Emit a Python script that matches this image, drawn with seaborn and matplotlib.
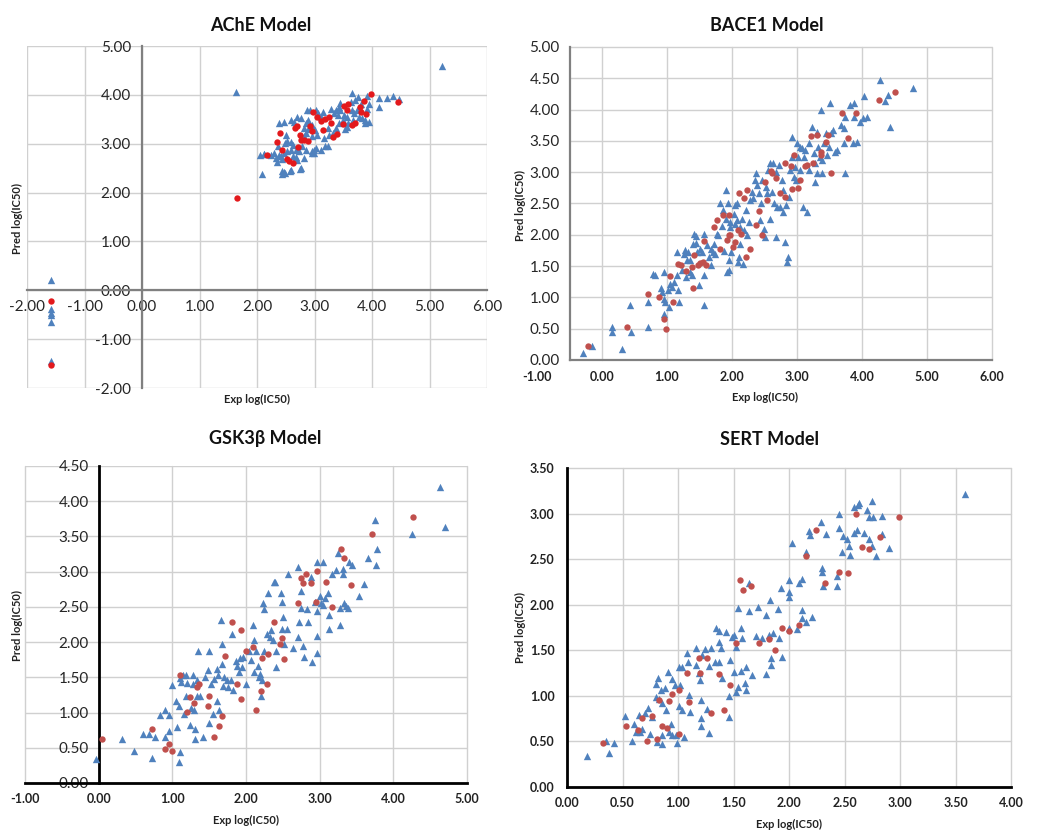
import matplotlib
matplotlib.use("Agg")
import matplotlib.pyplot as plt
import seaborn as sns
import pandas as pd

# ---------------- DATA ----------------
# AChE model
ache_train_x = [1.64, 5.22, 4.47, -1.58, -1.58, -1.58, -1.58, -1.58, -1.58,
    3.66, 3.91, 4.13, 4.26, 4.36, 4.12, 3.75, 3.71, 3.63, 3.45, 3.43, 3.80, 3.94, 3.91, 3.83,
    3.88, 3.94, 3.87, 3.77, 3.68, 3.67, 3.59, 3.53, 3.56, 3.49, 3.40, 3.34, 3.37, 3.43, 3.37,
    3.23, 3.26, 3.17, 3.23, 3.11, 3.02, 2.96, 3.02, 3.06, 3.14, 3.11, 2.89, 2.85, 2.82, 2.89,
    2.96, 3.00, 3.05, 2.85, 2.81, 2.79, 2.85, 2.96, 2.99, 2.73, 2.67, 2.59, 2.53, 2.47, 2.39,
    2.33, 2.30, 2.24, 2.13, 2.06, 2.08, 2.43, 2.47, 2.59, 2.76, 2.50, 2.48, 2.53, 2.59, 2.62,
    2.36, 2.41, 2.44, 2.62, 2.67, 2.70, 2.82, 2.59, 2.65, 2.47, 2.39, 2.87, 2.93, 2.70, 2.76,
    3.45, 3.28, 3.51, 3.74, 3.66, 3.57, 2.12, 2.35, 2.43, 2.49, 2.58, 2.75, 2.96, 2.99, 3.19, 3.33]
ache_train_y = [4.05, 4.60, 3.91, 0.21, -0.39, -0.46, -0.51, -0.64, -1.44,
    4.04, 3.97, 3.94, 3.94, 3.97, 3.75, 3.95, 3.89, 3.85, 3.83, 3.75, 3.82, 3.82, 3.72, 3.52,
    3.48, 3.45, 3.43, 3.55, 3.62, 3.48, 3.42, 3.30, 3.35, 3.48, 3.58, 3.62, 3.68, 3.42, 3.32,
    3.32, 3.18, 3.11, 2.95, 2.88, 2.91, 3.15, 3.68, 3.62, 3.65, 3.55, 3.48, 3.42, 3.32, 3.30,
    3.38, 3.28, 3.18, 3.21, 3.15, 2.95, 2.88, 2.85, 2.81, 2.85, 2.88, 2.88, 2.85, 2.81, 2.76,
    2.71, 2.81, 2.76, 2.78, 2.76, 2.38, 2.44, 2.42, 2.46, 2.50, 3.18, 3.01, 3.06, 3.03, 2.98,
    2.95, 2.74, 2.68, 2.74, 2.73, 2.66, 2.71, 3.48, 3.45, 3.45, 3.42, 3.68, 3.70, 3.55, 3.52,
    3.68, 3.72, 3.58, 3.68, 3.69, 3.55, 2.78, 2.63, 2.39, 2.40, 2.44, 2.48, 2.82, 2.88, 2.95, 3.22]
ache_test_x = [1.65, 4.45, -1.58, -1.58, 3.99, 3.86, 3.79, 3.58, 3.51, 3.56, 3.80, 3.90,
    3.71, 3.65, 3.49, 3.39, 3.32, 3.26, 3.19, 3.11, 3.05, 2.98, 2.93, 2.95, 3.14, 2.70,
    2.66, 2.40, 2.35, 2.74, 2.76, 2.82, 2.89, 2.72, 2.44, 2.18, 2.52, 2.56, 2.62, 3.28]
ache_test_y = [1.89, 3.85, -0.22, -1.52, 4.01, 3.87, 3.75, 3.82, 3.77, 3.68, 3.65, 3.60,
    3.43, 3.38, 3.40, 3.19, 3.13, 3.55, 3.50, 3.47, 3.55, 3.64, 3.37, 3.27, 3.28, 3.36,
    3.32, 3.21, 3.03, 3.17, 3.08, 3.07, 3.05, 2.93, 2.87, 2.77, 2.68, 2.64, 2.61, 3.43]

# BACE1 model
bace_train_x = [-0.29, -0.15, 0.15, 0.15, 0.31, 0.43, 0.45, 0.71, 0.71, 0.79, 0.81, 0.90, 0.92,
    0.96, 0.96, 0.97, 0.96, 1.03, 1.05, 1.02, 1.08, 1.10, 1.15, 1.15, 1.17, 1.18, 1.23, 1.26,
    1.28, 1.29, 1.31, 1.33, 1.36, 1.36, 1.38, 1.40, 1.41, 1.44, 1.45, 1.46, 1.49, 1.51, 1.54,
    1.57, 1.57, 1.57, 1.62, 1.64, 1.67, 1.70, 1.67, 1.72, 1.74, 1.77, 1.79, 1.82, 1.84, 1.86,
    1.87, 1.90, 1.91, 1.92, 1.94, 1.95, 1.96, 1.97, 1.97, 1.99, 2.03, 2.04, 2.05, 2.07, 2.08,
    2.09, 2.10, 2.12, 2.13, 2.15, 2.17, 2.18, 2.21, 2.23, 2.26, 2.28, 2.31, 2.33, 2.36, 2.37,
    2.38, 2.41, 2.43, 2.44, 2.46, 2.49, 2.50, 2.52, 2.54, 2.56, 2.58, 2.59, 2.62, 2.63, 2.64,
    2.67, 2.68, 2.69, 2.72, 2.74, 2.77, 2.78, 2.79, 2.82, 2.83, 2.85, 2.86, 2.87, 2.89, 2.92,
    2.92, 2.95, 2.97, 2.99, 3.00, 3.02, 3.04, 3.05, 3.08, 3.09, 3.10, 3.13, 3.15, 3.18, 3.19,
    3.23, 3.26, 3.27, 3.28, 3.30, 3.31, 3.33, 3.35, 3.37, 3.38, 3.39, 3.41, 3.44, 3.46, 3.49,
    3.50, 3.53, 3.56, 3.59, 3.62, 3.67, 3.72, 3.73, 3.74, 3.74, 3.81, 3.86, 3.87, 3.88, 3.92,
    3.97, 4.02, 4.03, 4.08, 4.27, 4.36, 4.40, 4.43, 4.79]
bace_train_y = [0.11, 0.23, 0.53, 0.44, 0.18, 0.88, 0.44, 0.53, 0.92, 1.37, 1.35, 1.15, 1.09,
    0.98, 0.74, 0.92, 1.41, 0.85, 1.22, 1.12, 1.16, 1.25, 1.72, 1.36, 1.12, 0.93, 1.44, 1.70,
    1.76, 1.33, 1.60, 1.73, 1.60, 1.41, 1.36, 1.86, 2.02, 1.87, 1.98, 1.73, 1.20, 1.78, 1.73,
    2.02, 0.88, 1.36, 1.83, 1.65, 1.52, 1.73, 1.78, 1.86, 1.70, 2.02, 1.99, 2.50, 2.14, 2.40,
    1.74, 2.71, 2.26, 1.41, 2.50, 1.44, 1.60, 2.13, 2.21, 1.73, 2.34, 2.48, 2.18, 2.23, 2.50,
    1.57, 1.65, 1.86, 2.13, 2.26, 1.54, 2.07, 2.39, 1.99, 2.21, 2.55, 2.69, 2.58, 2.87, 2.98,
    2.79, 2.66, 2.23, 2.50, 2.87, 2.10, 1.97, 2.77, 2.66, 3.03, 3.14, 2.26, 2.69, 3.14, 2.50,
    3.01, 1.97, 2.45, 3.12, 2.45, 2.87, 2.37, 2.71, 1.88, 2.47, 1.57, 1.65, 2.61, 3.03, 3.56,
    3.24, 2.93, 3.09, 2.87, 3.46, 3.24, 3.03, 3.40, 3.38, 2.45, 3.24, 3.35, 2.37, 3.03, 3.46,
    3.72, 3.30, 2.85, 3.14, 3.64, 2.98, 3.40, 3.24, 3.99, 3.19, 2.98, 3.46, 3.62, 3.27, 3.40,
    4.10, 3.62, 3.67, 3.32, 3.35, 3.75, 3.46, 3.70, 2.98, 3.88, 4.07, 3.46, 3.88, 4.10, 3.48,
    3.80, 3.86, 4.21, 3.88, 4.48, 4.13, 4.23, 3.73, 4.35]
bace_test_x = [-0.22, 0.38, 0.71, 0.88, 0.96, 0.98, 1.04, 1.09, 1.17, 1.21, 1.29, 1.38, 1.40,
    1.41, 1.47, 1.51, 1.55, 1.57, 1.60, 1.72, 1.77, 1.81, 1.86, 1.92, 1.95, 1.95, 1.97, 2.01,
    2.05, 2.09, 2.10, 2.14, 2.18, 2.21, 2.23, 2.28, 2.37, 2.41, 2.46, 2.50, 2.54, 2.60, 2.62,
    2.67, 2.74, 2.82, 2.82, 2.90, 2.92, 2.96, 3.01, 3.04, 3.12, 3.15, 3.22, 3.25, 3.31, 3.37,
    3.37, 3.45, 3.48, 3.53, 3.69, 3.79, 3.90, 4.26, 4.50]
bace_test_y = [0.23, 0.53, 1.06, 1.01, 0.66, 0.49, 1.34, 0.93, 1.54, 1.51, 1.42, 1.49, 1.15,
    1.67, 1.51, 1.55, 1.57, 1.90, 1.51, 2.13, 2.23, 1.77, 2.32, 1.91, 2.31, 1.99, 1.99, 1.81,
    1.88, 2.07, 2.67, 2.01, 2.59, 1.65, 2.71, 1.77, 2.15, 2.38, 1.99, 2.84, 2.55, 3.02, 2.98,
    2.91, 2.66, 2.61, 3.15, 3.10, 2.73, 3.27, 2.74, 2.88, 3.10, 3.12, 3.58, 3.14, 3.59, 3.32,
    3.27, 3.49, 3.59, 2.99, 3.95, 3.54, 3.94, 4.15, 4.28]

# GSK3beta model
gsk_train_x = [-0.04, 0.31, 0.48, 0.60, 0.69, 0.73, 0.77, 0.83, 0.90, 0.90, 0.95, 0.96, 0.99,
    1.05, 1.06, 1.09, 1.09, 1.10, 1.11, 1.12, 1.14, 1.16, 1.18, 1.19, 1.20, 1.24, 1.25, 1.28,
    1.28, 1.30, 1.31, 1.31, 1.33, 1.34, 1.35, 1.37, 1.41, 1.44, 1.48, 1.50, 1.50, 1.53, 1.55,
    1.57, 1.60, 1.61, 1.62, 1.64, 1.66, 1.67, 1.68, 1.69, 1.70, 1.74, 1.76, 1.80, 1.81, 1.83,
    1.86, 1.88, 1.90, 1.92, 1.94, 1.96, 2.00, 2.04, 2.07, 2.10, 2.11, 2.11, 2.14, 2.16, 2.18,
    2.19, 2.21, 2.22, 2.23, 2.25, 2.25, 2.28, 2.30, 2.32, 2.34, 2.37, 2.38, 2.40, 2.41, 2.41,
    2.48, 2.49, 2.49, 2.50, 2.51, 2.55, 2.57, 2.64, 2.71, 2.71, 2.72, 2.74, 2.75, 2.78, 2.79,
    2.83, 2.84, 2.88, 2.90, 2.93, 2.96, 2.96, 2.96, 2.96, 3.00, 3.02, 3.04, 3.05, 3.07, 3.11,
    3.13, 3.13, 3.17, 3.22, 3.25, 3.27, 3.28, 3.31, 3.32, 3.33, 3.36, 3.38, 3.40, 3.44, 3.53,
    3.60, 3.66, 3.75, 3.76, 3.78, 4.25, 4.64, 4.70]
gsk_train_y = [0.34, 0.62, 0.45, 0.70, 0.70, 0.36, 0.65, 0.96, 1.04, 0.66, 0.74, 0.96, 1.39,
    1.17, 0.80, 1.09, 0.30, 1.49, 0.44, 1.43, 1.54, 0.98, 1.23, 1.54, 1.42, 0.83, 1.06, 1.41,
    1.54, 1.03, 0.76, 0.62, 1.24, 1.46, 1.88, 1.24, 0.65, 1.50, 1.60, 1.88, 0.85, 1.41, 0.98,
    1.48, 1.17, 1.62, 1.53, 1.03, 2.32, 1.98, 1.69, 1.37, 1.50, 1.46, 1.36, 1.46, 2.12, 1.32,
    1.73, 1.66, 1.58, 1.77, 1.64, 1.79, 1.41, 1.88, 1.74, 2.25, 2.03, 1.57, 1.88, 1.66, 1.50,
    1.55, 1.23, 1.46, 2.56, 2.47, 1.88, 2.12, 2.70, 2.07, 2.17, 2.03, 2.86, 2.86, 1.64, 1.88,
    2.70, 2.57, 2.18, 2.36, 1.97, 2.18, 2.96, 1.91, 2.07, 3.07, 2.29, 2.49, 2.73, 1.94, 1.79,
    2.47, 2.28, 2.92, 1.72, 2.57, 3.14, 2.44, 2.08, 1.84, 2.66, 2.55, 3.14, 2.52, 2.62, 2.70,
    2.38, 2.19, 2.96, 3.03, 3.27, 2.24, 2.48, 3.04, 2.96, 2.56, 2.51, 2.48, 3.14, 3.10, 2.65,
    2.82, 3.19, 3.74, 3.10, 3.32, 3.53, 4.20, 3.63]
gsk_test_x = [0.04, 0.73, 0.90, 1.00, 0.95, 1.11, 1.20, 1.24, 1.30, 1.33, 1.36, 1.50, 1.48,
    1.57, 1.63, 1.67, 1.71, 1.81, 1.88, 1.93, 1.93, 2.00, 2.10, 2.13, 2.21, 2.22, 2.29, 2.30,
    2.38, 2.46, 2.49, 2.52, 2.71, 2.74, 2.77, 2.81, 2.88, 2.95, 2.96, 3.09, 3.17, 3.29, 3.33,
    3.42, 3.71, 4.27]
gsk_test_y = [0.62, 0.76, 0.48, 0.46, 0.56, 1.54, 1.01, 1.22, 1.13, 1.36, 1.40, 1.24, 1.10,
    0.66, 0.81, 0.95, 1.80, 2.29, 1.41, 2.17, 1.19, 1.88, 1.93, 1.03, 1.31, 1.78, 1.40, 1.83,
    2.28, 1.97, 2.06, 1.76, 2.56, 2.91, 2.84, 2.97, 2.84, 2.57, 3.01, 2.85, 2.50, 3.32, 3.19,
    2.81, 3.54, 3.78]

# SERT model
sert_train_x = [0.18, 0.35, 0.38, 0.42, 0.52, 0.59, 0.60, 0.62, 0.65, 0.66, 0.68, 0.70, 0.73,
    0.75, 0.77, 0.80, 0.80, 0.81, 0.82, 0.83, 0.85, 0.86, 0.86, 0.86, 0.88, 0.89, 0.91, 0.92,
    0.94, 0.95, 0.95, 0.97, 0.98, 0.99, 1.01, 1.01, 1.02, 1.04, 1.04, 1.05, 1.08, 1.09, 1.10,
    1.11, 1.16, 1.16, 1.19, 1.20, 1.21, 1.21, 1.21, 1.22, 1.24, 1.26, 1.28, 1.28, 1.30, 1.34,
    1.33, 1.37, 1.37, 1.37, 1.39, 1.40, 1.43, 1.46, 1.46, 1.47, 1.49, 1.50, 1.50, 1.52, 1.52,
    1.54, 1.54, 1.57, 1.57, 1.58, 1.60, 1.61, 1.61, 1.64, 1.64, 1.67, 1.70, 1.72, 1.76, 1.79,
    1.79, 1.82, 1.83, 1.84, 1.84, 1.86, 1.90, 1.91, 1.93, 1.94, 2.00, 2.00, 2.00, 2.00, 2.03,
    2.07, 2.09, 2.12, 2.12, 2.12, 2.15, 2.15, 2.18, 2.19, 2.21, 2.29, 2.30, 2.30, 2.31, 2.33,
    2.43, 2.43, 2.45, 2.45, 2.48, 2.49, 2.52, 2.54, 2.55, 2.59, 2.59, 2.61, 2.62, 2.63, 2.68,
    2.70, 2.72, 2.72, 2.75, 2.76, 2.75, 2.78, 2.84, 2.84, 2.90, 3.59]
sert_train_y = [0.34, 0.51, 0.37, 0.48, 0.78, 0.51, 0.69, 0.60, 0.79, 0.60, 0.64, 0.81, 0.87,
    0.58, 0.77, 0.99, 1.13, 0.49, 1.20, 0.97, 1.06, 0.57, 0.47, 0.92, 1.09, 0.84, 1.26, 0.60,
    0.69, 0.57, 1.19, 1.12, 0.57, 0.48, 1.32, 0.89, 1.12, 1.32, 0.84, 0.55, 1.47, 1.37, 1.01,
    0.82, 1.52, 1.34, 1.25, 1.17, 0.67, 0.76, 0.95, 1.45, 1.51, 0.86, 1.33, 0.59, 1.53, 1.74,
    1.37, 1.71, 1.37, 1.59, 1.53, 1.20, 1.70, 1.00, 0.77, 1.39, 1.65, 1.26, 1.67, 1.54, 1.04,
    1.96, 1.10, 1.27, 1.74, 1.63, 1.14, 1.32, 1.06, 1.93, 2.24, 1.23, 1.66, 1.97, 1.64, 1.89,
    1.24, 1.67, 2.05, 1.41, 1.34, 1.69, 1.95, 1.64, 2.18, 1.43, 2.27, 2.14, 2.08, 1.74, 2.68,
    1.73, 2.24, 2.28, 1.94, 1.85, 1.81, 2.58, 2.81, 2.77, 1.86, 2.91, 2.40, 2.36, 2.20, 2.78,
    2.20, 2.31, 3.00, 2.84, 2.58, 2.75, 2.72, 2.64, 2.54, 2.79, 3.07, 2.82, 3.09, 3.12, 2.79,
    3.04, 2.72, 2.96, 3.14, 2.96, 2.64, 2.53, 2.97, 2.78, 2.62, 3.22]
sert_test_x = [0.32, 0.53, 0.64, 0.68, 0.72, 0.77, 0.81, 0.83, 0.86, 0.90, 0.92, 0.95, 1.01,
    1.01, 1.08, 1.10, 1.19, 1.20, 1.26, 1.30, 1.37, 1.41, 1.47, 1.52, 1.56, 1.59, 1.66, 1.73,
    1.82, 1.87, 1.94, 2.00, 2.09, 2.15, 2.24, 2.32, 2.45, 2.53, 2.60, 2.66, 2.72, 2.82, 2.99]
sert_test_y = [0.48, 0.67, 0.62, 0.76, 0.50, 0.78, 0.53, 0.95, 0.67, 0.65, 0.94, 1.02, 1.06,
    0.58, 1.25, 0.93, 1.42, 1.25, 1.42, 0.81, 1.24, 0.85, 1.12, 1.58, 2.27, 2.16, 2.20, 1.58,
    1.62, 1.50, 1.74, 1.71, 1.78, 2.53, 2.82, 2.24, 2.36, 2.35, 2.99, 2.63, 2.61, 2.74, 2.96]

titles = ["AChE Model", "BACE1 Model", "GSK3\u03b2 Model", "SERT Model"]
x_label = "Exp log(IC50)"
y_label = "Pred log(IC50)"

# ---------------- STYLE ----------------
sns.set_theme(style="white")
plt.rcParams['font.family'] = ['Lato', 'DejaVu Sans']

BLUE = "#4F81BD"
RED = "#C0504D"
RED_ACHE = "#E3191C"
GRID = "#D0D0D0"
TICK_FS = 9
LABEL_FS = 8

fig = plt.figure(figsize=(10.47, 8.31), dpi=100)

def add_ax(px_left, px_right, py_top, py_bottom):
    W, H = 1047, 831
    return fig.add_axes([px_left / W, 1 - py_bottom / H,
                         (px_right - px_left) / W, (py_bottom - py_top) / H])

ax1 = add_ax(27, 487, 46, 388)
ax2 = add_ax(537, 992, 47, 360)
ax3 = add_ax(25, 467, 466, 783)
ax4 = add_ax(567, 1011, 468, 787)

def scatter(ax, tx, ty, sx, sy, red):
    d_train = pd.DataFrame({"x": tx, "y": ty})
    d_test = pd.DataFrame({"x": sx, "y": sy})
    sns.scatterplot(data=d_train, x="x", y="y", ax=ax, marker="^", color=BLUE,
                    s=28, linewidth=0, zorder=3)
    sns.scatterplot(data=d_test, x="x", y="y", ax=ax, marker="o", color=red,
                    s=21, linewidth=0, zorder=4)
    ax.set_xlabel("")
    ax.set_ylabel("")

scatter(ax1, ache_train_x, ache_train_y, ache_test_x, ache_test_y, RED_ACHE)
scatter(ax2, bace_train_x, bace_train_y, bace_test_x, bace_test_y, RED)
scatter(ax3, gsk_train_x, gsk_train_y, gsk_test_x, gsk_test_y, RED)
scatter(ax4, sert_train_x, sert_train_y, sert_test_x, sert_test_y, RED)

def fmt(v):
    return f"{v:.2f}"

def setup(ax, xlim, ylim, xticks, yticks, xpad, ypad, ycol="#222222", yweight="bold"):
    ax.set_xlim(*xlim)
    ax.set_ylim(*ylim)
    ax.set_xticks(xticks)
    ax.set_yticks(yticks)
    ax.set_xticklabels([fmt(v) for v in xticks], fontsize=TICK_FS, fontweight="bold", color="#222222")
    ax.set_yticklabels([fmt(v) for v in yticks], fontsize=TICK_FS, fontweight=yweight, color=ycol)
    ax.tick_params(axis="x", length=0, pad=xpad)
    ax.tick_params(axis="y", length=0, pad=ypad)
    ax.set_axisbelow(True)
    ax.patch.set_alpha(0)

# ---- Panel 1: AChE ----
setup(ax1, (-2, 6), (-2, 5), list(range(-2, 7)), list(range(-2, 6)), 7, 8)
ax1.grid(True, color=GRID, lw=1.0)
for gl in ax1.get_xgridlines() + ax1.get_ygridlines():
    gl.set_clip_on(False)
for s in ["top", "right"]:
    ax1.spines[s].set_visible(False)
ax1.spines["left"].set_position(("data", 0))
ax1.spines["bottom"].set_position(("data", 0))
for s in ["left", "bottom"]:
    ax1.spines[s].set_color("#808080")
    ax1.spines[s].set_linewidth(1.6)

# ---- Panel 2: BACE1 ----
setup(ax2, (-1, 6), (0, 5), list(range(-1, 7)), [0, 0.5, 1, 1.5, 2, 2.5, 3, 3.5, 4, 4.5, 5], 8, 7)
ax2.grid(True, axis="x", color=GRID, lw=1.0)
for gl in ax2.get_xgridlines():
    gl.set_clip_on(False)
ax2.get_xgridlines()[0].set_visible(False)
ax2.hlines([0.5, 1, 1.5, 2, 2.5, 3, 3.5, 4, 4.5, 5], -0.5, 6, colors=GRID, lw=1.0,
           zorder=0.5, clip_on=False)
ax2.spines["top"].set_visible(False)
ax2.spines["right"].set_visible(False)
ax2.spines["left"].set_position(("data", -0.5))
ax2.spines["bottom"].set_bounds(-0.5, 6)
for s in ["left", "bottom"]:
    ax2.spines[s].set_color("#808080")
    ax2.spines[s].set_linewidth(1.6)

# ---- Panel 3: GSK3beta ----
setup(ax3, (-1, 5), (0, 4.5), list(range(-1, 6)), [0, 0.5, 1, 1.5, 2, 2.5, 3, 3.5, 4, 4.5], 7, 7,
      ycol="#555555", yweight="normal")
ax3.grid(True, color=GRID, lw=1.0)
for gl in ax3.get_xgridlines() + ax3.get_ygridlines():
    gl.set_clip_on(False)
ax3.spines["top"].set_visible(False)
ax3.spines["right"].set_visible(False)
ax3.spines["left"].set_position(("data", 0))
for s in ["left", "bottom"]:
    ax3.spines[s].set_color("#000000")
    ax3.spines[s].set_linewidth(2.0)

# ---- Panel 4: SERT ----
setup(ax4, (0, 4), (0, 3.5), [0, 0.5, 1, 1.5, 2, 2.5, 3, 3.5, 4],
      [0, 0.5, 1, 1.5, 2, 2.5, 3, 3.5], 7, 9)
ax4.grid(True, color=GRID, lw=1.0)
for gl in ax4.get_xgridlines() + ax4.get_ygridlines():
    gl.set_clip_on(False)
ax4.spines["top"].set_visible(False)
ax4.spines["right"].set_visible(False)
for s in ["left", "bottom"]:
    ax4.spines[s].set_color("#000000")
    ax4.spines[s].set_linewidth(2.0)

# ---- titles & axis labels ----
title_pos = [(0.507, 1.061), (0.505, 1.070), (0.543, 1.088), (0.457, 1.088)]
xlab_pos = [(0.5, -0.035), (0.5, -0.12), (0.5, -0.117), (0.5, -0.116)]
ylab_pos = [(-0.02, 0.497), (-0.036, 0.495), (-0.018, 0.498), (-0.104, 0.50)]
for ax, t, tp, xp, yp in zip([ax1, ax2, ax3, ax4], titles, title_pos, xlab_pos, ylab_pos):
    ax.text(tp[0], tp[1], t, transform=ax.transAxes, ha="center", va="center",
            fontsize=13, fontweight="bold", color="#111111")
    ax.text(xp[0], xp[1], x_label, transform=ax.transAxes, ha="center", va="center",
            fontsize=LABEL_FS, fontweight="bold", color="#222222")
    ax.text(yp[0], yp[1], y_label, transform=ax.transAxes, ha="center", va="center",
            rotation=90, fontsize=LABEL_FS, fontweight="bold", color="#222222")

fig.savefig("out.png", dpi=100)
